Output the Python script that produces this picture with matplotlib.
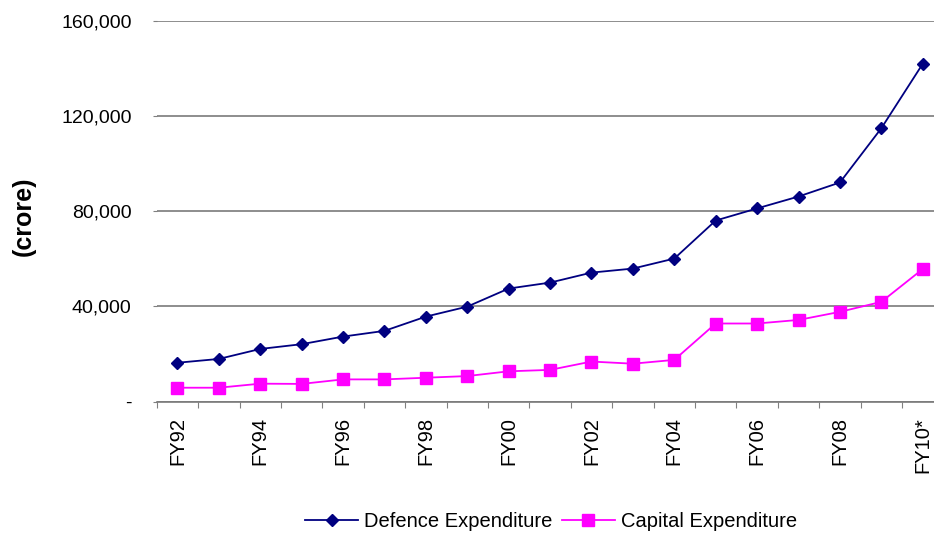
import matplotlib
matplotlib.use("Agg")
import matplotlib.pyplot as plt
from matplotlib.ticker import FixedLocator, FuncFormatter

plt.rcParams["font.family"] = ["Liberation Sans", "DejaVu Sans"]

years = ["FY92", "FY93", "FY94", "FY95", "FY96", "FY97", "FY98", "FY99", "FY00",
         "FY01", "FY02", "FY03", "FY04", "FY05", "FY06", "FY07", "FY08", "FY09", "FY10*"]
defence = [16300, 17900, 22100, 24100, 27300, 29700, 35700, 39900, 47500,
           50000, 54200, 55900, 60100, 76100, 81200, 86200, 92100, 114900, 142000]
capital = [5800, 5800, 7500, 7400, 9300, 9300, 10000, 10700, 12700,
           13300, 16800, 15900, 17500, 32800, 32800, 34300, 37700, 41900, 55700]
y_ticks = [0, 40000, 80000, 120000, 160000]

fig = plt.figure(figsize=(9.34, 5.33), dpi=100)
ax = fig.add_axes([0.1678, 0.2467, 0.8423, 0.7139])

x = list(range(len(years)))
ax.plot(x, defence, color="#000080", lw=1.3, marker="D", ms=5.8,
        label="Defence Expenditure", zorder=3)
ax.plot(x, capital, color="#FF00FF", lw=1.3, marker="s", ms=8,
        label="Capital Expenditure", zorder=3)

ax.set_xlim(-0.5, len(years) - 0.5)
ax.set_ylim(0, 160000)

# y axis: gridlines, dash for zero
ax.set_yticks(y_ticks)
ax.yaxis.set_major_formatter(FuncFormatter(lambda v, p: "-" if v == 0 else f"{int(v):,}"))
ax.yaxis.grid(True, color="#7a7a7a", lw=1.2)
ax.set_axisbelow(True)
ax.tick_params(axis="y", length=3, color="#808080", pad=15, labelsize=14)

# x axis: tick marks between categories, labels on every other category
ax.xaxis.set_major_locator(FixedLocator([i - 0.5 for i in range(len(years) + 1)]))
ax.xaxis.set_major_formatter(FuncFormatter(lambda v, p: ""))
ax.xaxis.set_minor_locator(FixedLocator(x[::2]))
ax.set_xticklabels(years[::2], minor=True, rotation=90, va="top", ha="center")
ax.tick_params(axis="x", which="major", length=4.5, color="#808080")
ax.tick_params(axis="x", which="minor", length=0, pad=11, labelsize=14.5)

for side in ("top", "right", "left"):
    ax.spines[side].set_visible(False)
ax.spines["bottom"].set_color("#7a7a7a")
ax.spines["bottom"].set_linewidth(1.2)

fig.text(24 / 934, 1 - 216 / 533, "(crore)", rotation=90, fontsize=18,
         fontweight="bold", ha="center", va="center")

fig.legend(loc="center", bbox_to_anchor=(0.59, 0.021), ncol=2, frameon=False,
           fontsize=14.5, handlelength=2.6, handletextpad=0.3, columnspacing=0.5)

fig.savefig("out.png", dpi=100)
